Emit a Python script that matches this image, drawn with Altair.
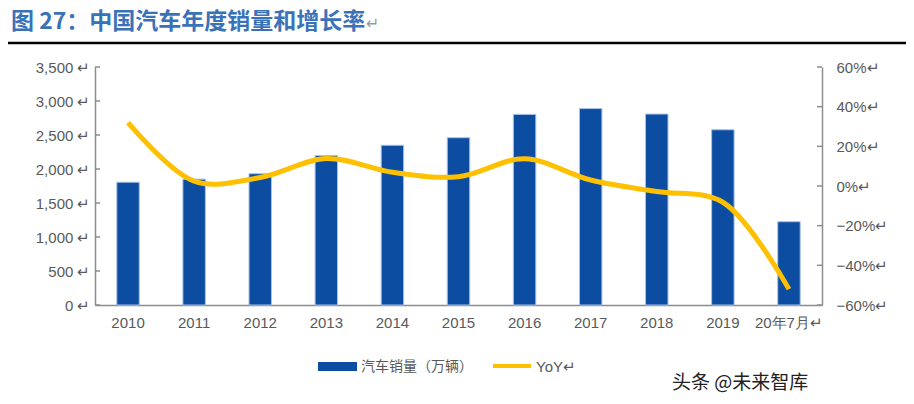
import altair as alt
import pandas as pd

categories = ["2010", "2011", "2012", "2013", "2014", "2015", "2016", "2017", "2018", "2019", "20年7月"]
sales = [1806, 1851, 1931, 2198, 2349, 2460, 2803, 2888, 2808, 2577, 1225]
yoy_pct = [32.0, 2.5, 4.3, 13.9, 6.9, 4.7, 13.7, 3.0, -2.8, -8.2, -52.0]
left_ticks = [0, 500, 1000, 1500, 2000, 2500, 3000, 3500]
right_ticks = [-0.6, -0.4, -0.2, 0.0, 0.2, 0.4, 0.6]

title_text = "图 27：中国汽车年度销量和增长率"
legend_bar = "汽车销量（万辆）"
legend_line = "YoY↵"
watermark = "头条 @未来智库"

df = pd.DataFrame({"cat": categories, "sales": sales, "yoy": [v / 100 for v in yoy_pct]})
lt = pd.DataFrame({"v": left_ticks})
rt = pd.DataFrame({"v": right_ticks})
one = pd.DataFrame({"a": [1]})

W, H = 727, 238
AX = "#8c8c8c"
LAB = "#595959"
FONT = "Liberation Sans"

x_enc = alt.X(
    "cat:N", sort=categories,
    scale=alt.Scale(paddingInner=0.66, paddingOuter=0.33),
    axis=alt.Axis(title=None, labelAngle=0, ticks=False, domainColor=AX, domainWidth=1.5,
                  labelFontSize=15, labelColor=LAB, labelFont=FONT, labelPadding=10,
                  labelExpr="datum.value == '20年7月' ? '20年7月↵' : datum.label"),
)

left_axis = alt.Axis(title=None, values=left_ticks, grid=False, ticks=False,
                     domainColor=AX, domainWidth=1.5, labelFontSize=15, labelColor=LAB,
                     labelFont=FONT, labelPadding=5,
                     labelExpr="format(datum.value, ',') + ' ↵'")
right_axis = alt.Axis(title=None, orient="right", values=right_ticks, grid=False,
                      ticks=False, domainColor=AX, domainWidth=1.5, labelFontSize=15,
                      labelColor=LAB, labelFont=FONT, labelPadding=14,
                      labelExpr="format(datum.value, '.0%') + '↵'")

bars = alt.Chart(df).mark_bar(color="#0C4DA2", stroke="#A9C2E6", strokeWidth=1).encode(
    x=x_enc,
    y=alt.Y("sales:Q", scale=alt.Scale(domain=[0, 3500]), axis=left_axis),
)
lticks = alt.Chart(lt).mark_rule(color=AX, strokeWidth=1.5).encode(
    y=alt.Y("v:Q", scale=alt.Scale(domain=[0, 3500]), axis=left_axis),
    x=alt.value(0), x2=alt.value(5)
)
left = alt.layer(bars, lticks)

line = alt.Chart(df).mark_line(color="#FFC000", strokeWidth=5, interpolate="catmull-rom").encode(
    x=alt.X("cat:N", sort=categories),
    y=alt.Y("yoy:Q", scale=alt.Scale(domain=[-0.6, 0.6]), axis=right_axis),
)
rticks = alt.Chart(rt).mark_rule(color=AX, strokeWidth=1.5).encode(
    y=alt.Y("v:Q", scale=alt.Scale(domain=[-0.6, 0.6]), axis=right_axis),
    x=alt.value(W - 5), x2=alt.value(W)
)
right = alt.layer(line, rticks)

deco_base = alt.Chart(one)
title = deco_base.mark_text(align="left", baseline="middle", fontSize=23, fontWeight="bold",
                            font="Noto Sans CJK SC", color="#3A72B8").encode(
    x=alt.value(-84), y=alt.value(-45), text=alt.value(title_text))
title_ret = deco_base.mark_text(align="left", baseline="middle", fontSize=16, color="#999999",
                                font="DejaVu Sans").encode(
    x=alt.value(271), y=alt.value(-43), text=alt.value("↵"))
top_rule = deco_base.mark_rule(color="#000000", strokeWidth=2.5).encode(
    x=alt.value(-87), x2=alt.value(811), y=alt.value(-24))
bot_rule = deco_base.mark_rule(color="#000000", strokeWidth=1.5).encode(
    x=alt.value(-87), x2=alt.value(717), y=alt.value(334))
leg_rect = deco_base.mark_rule(color="#0C4DA2", strokeWidth=9).encode(
    x=alt.value(223), x2=alt.value(262), y=alt.value(299.5))
leg_t1 = deco_base.mark_text(align="left", baseline="middle", fontSize=14, color=LAB,
                             font="Noto Sans CJK SC").encode(
    x=alt.value(266), y=alt.value(300), text=alt.value(legend_bar))
leg_line = deco_base.mark_rule(color="#FFC000", strokeWidth=4).encode(
    x=alt.value(398), x2=alt.value(436), y=alt.value(299))
leg_t2 = deco_base.mark_text(align="left", baseline="middle", fontSize=15, color=LAB,
                             font=FONT).encode(
    x=alt.value(441), y=alt.value(300), text=alt.value(legend_line))
wm = deco_base.mark_text(align="left", baseline="middle", fontSize=19, color="#222222",
                         font="Noto Sans CJK SC").encode(
    x=alt.value(577), y=alt.value(316), text=alt.value(watermark))

deco = alt.layer(title, title_ret, top_rule, bot_rule, leg_rect, leg_t1, leg_line, leg_t2, wm)

chart = alt.layer(left, right, deco).resolve_scale(y="independent").properties(
    width=W, height=H,
    padding={"left": 87, "top": 59, "right": 84, "bottom": 88},
    autosize=alt.AutoSizeParams(type="none"),
    background="white",
).configure_view(stroke=None)

chart.save("out.html", embed_options={"renderer": "svg", "actions": False})
